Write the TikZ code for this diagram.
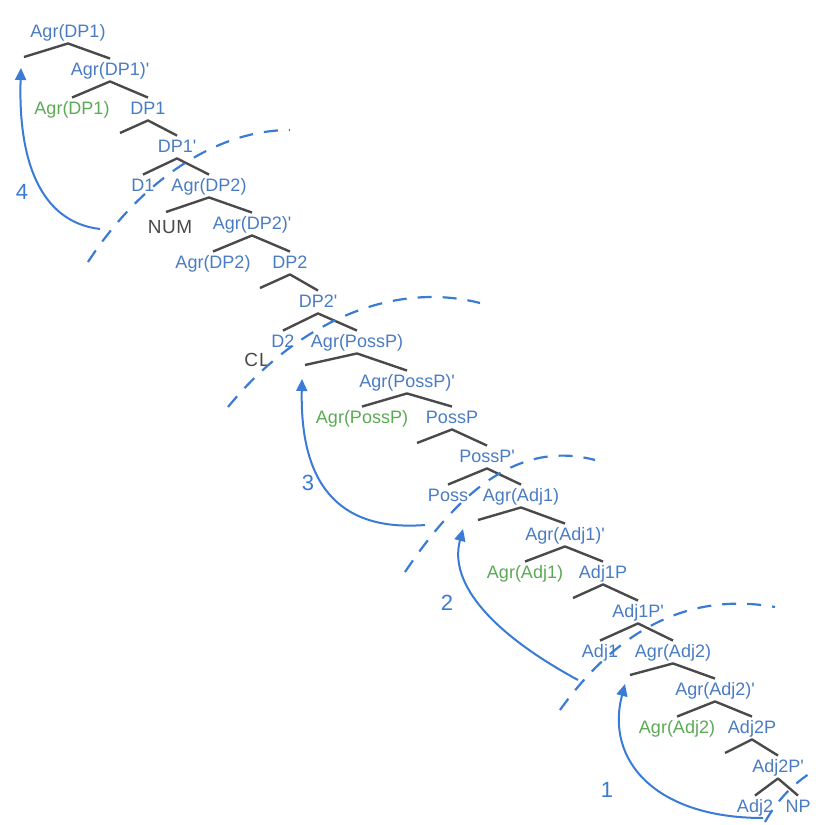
\documentclass[tikz,border=0pt]{standalone}
\usepackage{fontspec}
\setmainfont{Liberation Sans}
\usetikzlibrary{arrows.meta}
\definecolor{lblue}{HTML}{4A7CC3}
\definecolor{lgreen}{HTML}{5BAA55}
\definecolor{brgray}{HTML}{4A4A4A}
\definecolor{penblue}{HTML}{3A7BD5}
\newcommand{\prm}{\textquotesingle}
\begin{document}
\begin{tikzpicture}[x=1pt,y=-1pt,
  lab/.style={font=\fontsize{18}{20}\selectfont, text=lblue, inner xsep=1pt, inner ysep=3pt, text height=14pt, text depth=2.5pt},
  spec/.style={lab, text=lgreen},
  hand/.style={font=\fontsize{19}{21}\selectfont, text=brgray},
  br/.style={draw=brgray, line width=2.4pt, line join=round},
  mv/.style={draw=penblue, line width=2pt, -{Triangle[length=12pt,width=11pt]}},
  darc/.style={draw=penblue, line width=2.2pt, dash pattern=on 14pt off 11pt},
  movnum/.style={font=\fontsize{22}{24}\selectfont, text=penblue}]
\useasboundingbox (0,0) rectangle (816,825);
\fill[white] (0,0) rectangle (816,825);

% labels
\node[lab] (r1) at (68,32) {Agr(DP1)};
\node[lab] (r2) at (110,70) {Agr(DP1)\prm};
\node[spec] (g1) at (72,109) {Agr(DP1)};
\node[lab] (dp1) at (148,109) {DP1};
\node[lab] (dp1b) at (177,147) {DP1\prm};
\node[lab] (d1) at (143,186) {D1};
\node[lab] (a2) at (209,186) {Agr(DP2)};
\node[hand] (num) at (170,227) {N\kern0.5ptU\kern0.5ptM};
\node[lab] (a2b) at (252,224) {Agr(DP2)\prm};
\node[lab] (g2) at (213,263) {Agr(DP2)};
\node[lab] (dp2) at (290,263) {DP2};
\node[lab] (dp2b) at (318,302) {DP2\prm};
\node[lab] (d2) at (283,342) {D2};
\node[lab] (ap) at (357,342) {Agr(PossP)};
\node[hand] (cl) at (257,360) {C\kern1ptL};
\node[lab] (apb) at (407,382) {Agr(PossP)\prm};
\node[spec] (g3) at (362,418) {Agr(PossP)};
\node[lab] (pp) at (452,418) {PossP};
\node[lab] (ppb) at (487,457) {PossP\prm};
\node[lab] (poss) at (448,496) {Poss};
\node[lab] (aj1) at (521,496) {Agr(Adj1)};
\node[lab] (aj1b) at (565,535) {Agr(Adj1)\prm};
\node[spec] (g4) at (525,573) {Agr(Adj1)};
\node[lab] (a1p) at (603,573) {Adj1P};
\node[lab] (a1pb) at (638,612) {Adj1P\prm};
\node[lab] (adj1) at (600,652) {Adj1};
\node[lab] (aj2) at (673,652) {Agr(Adj2)};
\node[lab] (aj2b) at (715,690) {Agr(Adj2)\prm};
\node[spec] (g5) at (677,728) {Agr(Adj2)};
\node[lab] (a2p) at (752,728) {Adj2P};
\node[lab] (a2pb) at (778,767) {Adj2P\prm};
\node[lab] (adj2) at (755,807) {Adj2};
\node[lab] (np) at (798,807) {NP};

% empty specifier ends
\coordinate (e1) at (24,57);
\coordinate (e2) at (120,133);
\coordinate (e3) at (166,212);
\coordinate (e4) at (260,288);
\coordinate (e5) at (305,365);
\coordinate (e6) at (417,443);
\coordinate (e7) at (478,520);
\coordinate (e8) at (573,598);
\coordinate (e9) at (630,675);
\coordinate (e10) at (725,753);

% branches
\draw[br] (e1) -- (r1.south) -- (r2.north);
\draw[br] (g1.north) -- (r2.south) -- (dp1.north);
\draw[br] (e2) -- (dp1.south) -- (dp1b.north);
\draw[br] (d1.north) -- (dp1b.south) -- (a2.north);
\draw[br] (e3) -- (a2.south) -- (a2b.north);
\draw[br] (g2.north) -- (a2b.south) -- (dp2.north);
\draw[br] (e4) -- (dp2.south) -- (dp2b.north);
\draw[br] (d2.north) -- (dp2b.south) -- (ap.north);
\draw[br] (e5) -- (ap.south) -- (apb.north);
\draw[br] (g3.north) -- (apb.south) -- (pp.north);
\draw[br] (e6) -- (pp.south) -- (ppb.north);
\draw[br] (poss.north) -- (ppb.south) -- (aj1.north);
\draw[br] (e7) -- (aj1.south) -- (aj1b.north);
\draw[br] (g4.north) -- (aj1b.south) -- (a1p.north);
\draw[br] (e8) -- (a1p.south) -- (a1pb.north);
\draw[br] (adj1.north) -- (a1pb.south) -- (aj2.north);
\draw[br] (e9) -- (aj2.south) -- (aj2b.north);
\draw[br] (g5.north) -- (aj2b.south) -- (a2p.north);
\draw[br] (e10) -- (a2p.south) -- (a2pb.north);
\draw[br] (adj2.north) -- (a2pb.south) -- (np.north);

% dashed phase arcs
\coordinate (pa1) at (88,262);  \coordinate (pa2) at (290,130);
\coordinate (pb1) at (228,407); \coordinate (pb2) at (480,303);
\coordinate (pc1) at (405,572); \coordinate (pc2) at (595,460);
\coordinate (pd1) at (560,710); \coordinate (pd2) at (775,607);
\coordinate (pe1) at (765,822); \coordinate (pe2) at (822,766);
\draw[darc] (pa1) .. controls (140,182) and (215,130) .. (pa2);
\draw[darc] (pb1) .. controls (295,325) and (390,280) .. (pb2);
\draw[darc] (pc1) .. controls (460,490) and (520,440) .. (pc2);
\draw[darc] (pd1) .. controls (610,640) and (680,590) .. (pd2);
\draw[darc] (pe1) .. controls (780,795) and (800,778) .. (pe2);

% movement arrows
\coordinate (s1) at (763,818); \coordinate (t1) at (625,684);
\coordinate (s2) at (578,680); \coordinate (t2) at (463,529);
\coordinate (s3) at (425,525); \coordinate (t3) at (302,379);
\coordinate (s4) at (100,229); \coordinate (t4) at (21,68);
\draw[mv] (s1) .. controls (655,818) and (605,760) .. (t1);
\draw[mv] (s2) .. controls (495,635) and (448,585) .. (t2);
\draw[mv] (s3) .. controls (335,532) and (300,480) .. (t3);
\draw[mv] (s4) .. controls (40,222) and (18,160) .. (t4);

\node[movnum] (n1) at (607,790) {1};
\node[movnum] (n2) at (447,603) {2};
\node[movnum] (n3) at (308,483) {3};
\node[movnum] (n4) at (22,192) {4};
\end{tikzpicture}
\end{document}
